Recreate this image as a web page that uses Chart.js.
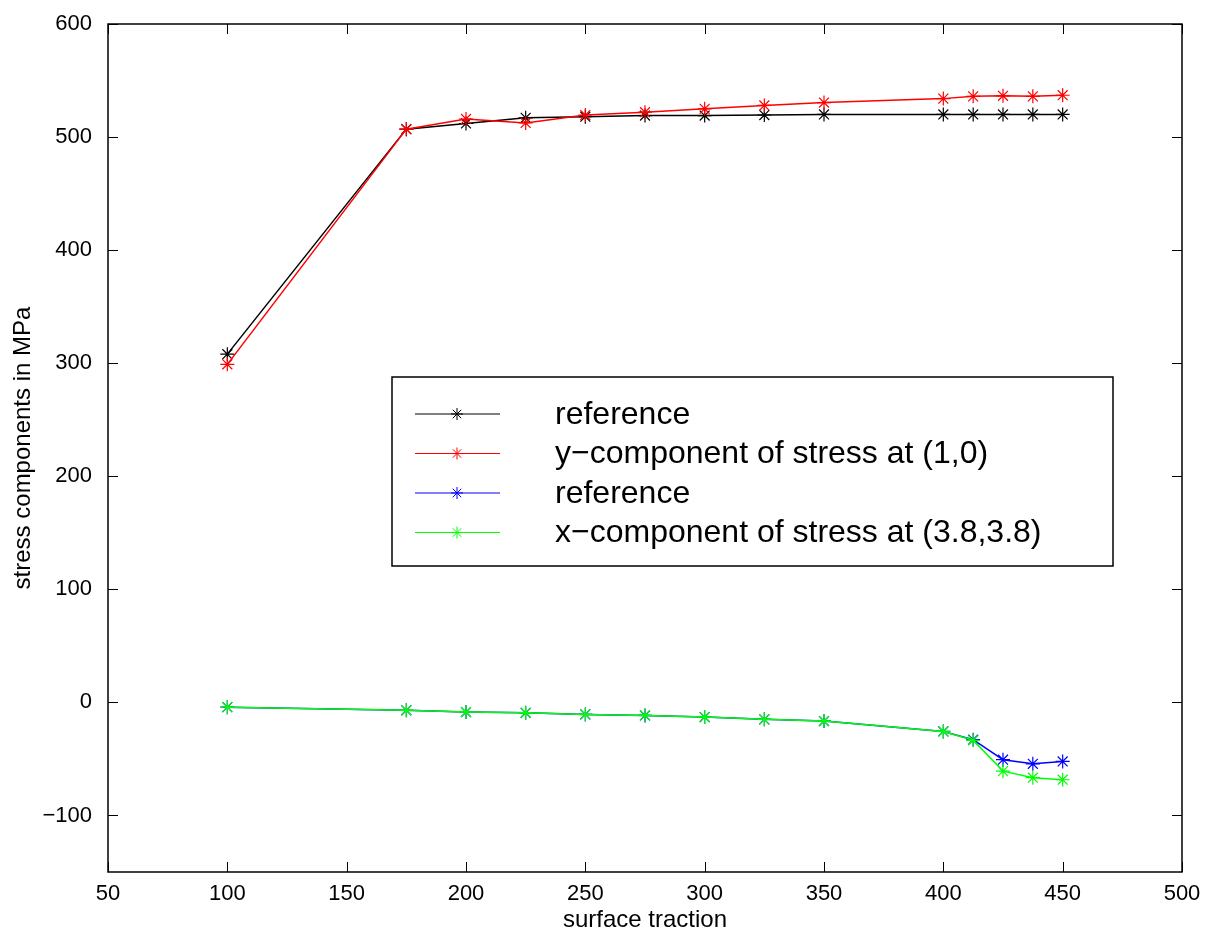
<!DOCTYPE html>
<html>
<head>
<meta charset="utf-8">
<script src="https://cdn.jsdelivr.net/npm/chart.js@4.4.1/dist/chart.umd.min.js"></script>
<style>
  html, body { margin: 0; padding: 0; background: #fff; }
  #wrap { width: 1206px; height: 932px; }
</style>
</head>
<body>
<div id="wrap"><canvas id="chart" width="1206" height="932"></canvas></div>
<script>
// surface traction values (x)
const traction = [100, 175, 200, 225, 250, 275, 300, 325, 350, 400, 412.5, 425, 437.5, 450];

// series
const refY    = [308, 507, 512, 517, 518, 519, 519, 519.5, 520, 520, 520, 520, 520, 520];
const stressY = [299, 507, 516, 512.5, 519.5, 522, 525, 528, 530.5, 534, 536, 536.5, 536, 537];
const refX    = [-4.2, -7, -8.5, -9.2, -10.6, -11.5, -13, -15, -16.5, -25.7, -33, -50.7, -54.3, -52.2];
const stressX = [-4.2, -7, -8.5, -9.2, -10.6, -11.5, -13, -15, -16.5, -25.7, -33.5, -60.8, -66.6, -68.4];

const legendLabels = ['reference', 'y\u2212component of stress at (1,0)', 'reference', 'x\u2212component of stress at (3.8,3.8)'];
const seriesColors = ['#000000', '#ff0000', '#0000ff', '#00ff00'];

const xTitle = 'surface traction';
const yTitle = 'stress components in MPa';

const FONT = "'Liberation Sans', Arial, Helvetica, sans-serif";

function pts(ys) {
    return traction.map((x, i) => ({ x: x, y: ys[i] }));
}

function star(ctx, x, y, r) {
    const d = r * Math.SQRT1_2;
    ctx.beginPath();
    ctx.moveTo(x - r, y); ctx.lineTo(x + r, y);
    ctx.moveTo(x, y - r); ctx.lineTo(x, y + r);
    ctx.moveTo(x - d, y - d); ctx.lineTo(x + d, y + d);
    ctx.moveTo(x - d, y + d); ctx.lineTo(x + d, y - d);
    ctx.stroke();
}

// box around the axes with inward ticks on all four sides, plus the legend
const framePlugin = {
    id: 'frame',
    afterDatasetsDraw(chart) {
        const ctx = chart.ctx;
        const a = chart.chartArea;
        const xs = chart.scales.x, ys = chart.scales.y;
        const len = 10;
        ctx.save();
        ctx.strokeStyle = '#000';
        ctx.lineWidth = 1;
        ctx.beginPath();
        xs.ticks.forEach(t => {
            const px = Math.round(xs.getPixelForValue(t.value)) + 0.5;
            ctx.moveTo(px, a.bottom); ctx.lineTo(px, a.bottom - len);
            ctx.moveTo(px, a.top); ctx.lineTo(px, a.top + len);
        });
        ys.ticks.forEach(t => {
            const py = Math.round(ys.getPixelForValue(t.value)) + 0.5;
            ctx.moveTo(a.left, py); ctx.lineTo(a.left + len, py);
            ctx.moveTo(a.right, py); ctx.lineTo(a.right - len, py);
        });
        ctx.stroke();
        ctx.lineWidth = 1.5;
        ctx.strokeRect(Math.round(a.left), Math.round(a.top), Math.round(a.right - a.left), Math.round(a.bottom - a.top));

        // legend box
        const lx = a.left + 284, ly = a.top + 353, lw = 721, lh = 189;
        ctx.fillStyle = '#fff';
        ctx.fillRect(lx, ly, lw, lh);
        ctx.lineWidth = 1.5;
        ctx.strokeStyle = '#000';
        ctx.strokeRect(lx, ly, lw, lh);
        ctx.font = '32px ' + FONT;
        ctx.textBaseline = 'middle';
        ctx.textAlign = 'left';
        legendLabels.forEach((lab, i) => {
            const y = ly + 37 + i * 39.5;
            ctx.strokeStyle = seriesColors[i];
            ctx.lineWidth = 1;
            ctx.beginPath();
            ctx.moveTo(lx + 23, y); ctx.lineTo(lx + 108, y);
            ctx.stroke();
            star(ctx, lx + 65, y, 6);
            ctx.fillStyle = '#000';
            ctx.fillText(lab, lx + 163, y + 1);
        });
        ctx.restore();
    }
};

const datasets = [refY, stressY, refX, stressX].map((ys, i) => ({
    label: legendLabels[i],
    data: pts(ys),
    borderColor: seriesColors[i],
    backgroundColor: seriesColors[i],
    borderWidth: 1.5,
    pointStyle: 'star',
    pointRadius: 7,
    pointBorderWidth: 1.2,
    tension: 0,
    order: 3 - i
}));

new Chart(document.getElementById('chart'), {
    type: 'line',
    data: { datasets: datasets },
    plugins: [framePlugin],
    options: {
        responsive: false,
        animation: false,
        layout: { padding: { top: 24, right: 24, left: 9, bottom: 0 } },
        plugins: {
            legend: { display: false },
            tooltip: { enabled: false }
        },
        scales: {
            x: {
                type: 'linear',
                min: 50, max: 500,
                ticks: {
                    stepSize: 50,
                    color: '#000',
                    font: { family: FONT, size: 22 },
                    padding: 1,
                    maxRotation: 0
                },
                grid: { display: false },
                border: { display: false },
                title: {
                    display: true, text: xTitle, color: '#000',
                    font: { family: FONT, size: 24 },
                    padding: { top: 0, bottom: -3 }
                },
                afterFit(s) { s.height = 60; }
            },
            y: {
                type: 'linear',
                min: -150, max: 600,
                ticks: {
                    stepSize: 100,
                    includeBounds: false,
                    color: '#000',
                    font: { family: FONT, size: 22 },
                    padding: 8,
                    callback: v => String(v).replace('-', '\u2212')
                },
                grid: { display: false },
                border: { display: false },
                title: {
                    display: true, text: yTitle, color: '#000',
                    font: { family: FONT, size: 24 },
                    padding: { top: 0, bottom: 4 }
                },
                afterFit(s) { s.width = 99; }
            }
        }
    }
});
</script>
</body>
</html>
